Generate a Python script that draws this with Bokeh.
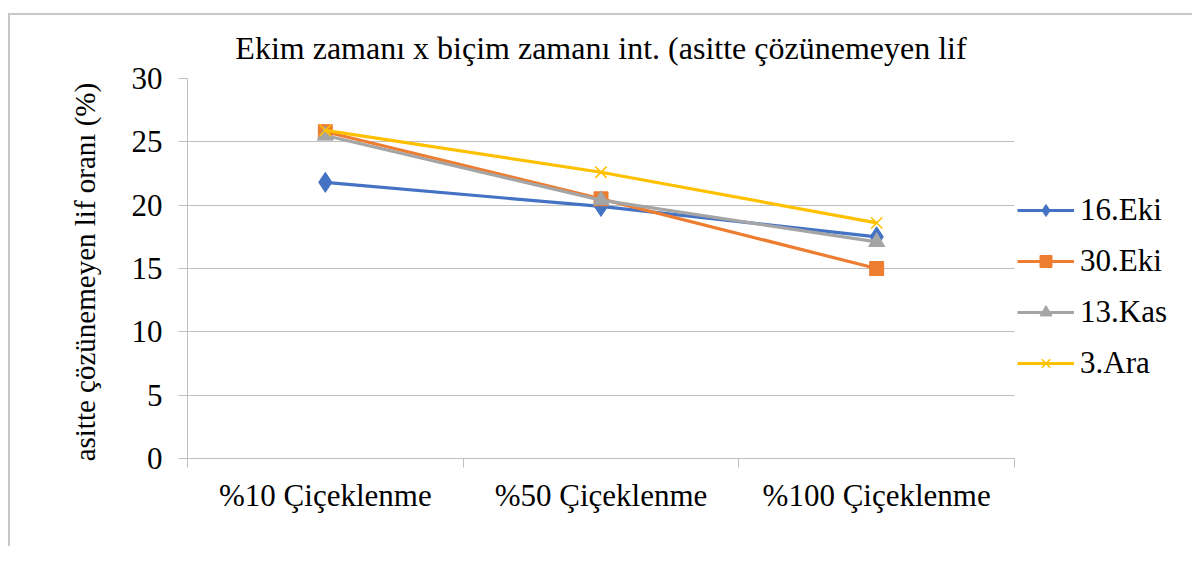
from bokeh.plotting import figure
from bokeh.models import FixedTicker, Legend, LegendItem, Range1d
from bokeh.embed import file_html
from bokeh.resources import INLINE

categories = ["%10 Çiçeklenme", "%50 Çiçeklenme", "%100 Çiçeklenme"]
eki16 = [21.8, 19.9, 17.5]
eki30 = [25.8, 20.5, 15.0]
kas13 = [25.5, 20.4, 17.1]
ara3 = [25.9, 22.6, 18.6]
series_names = ["16.Eki", "30.Eki", "13.Kas", "3.Ara"]
y_ticks = [0, 5, 10, 15, 20, 25, 30]

FONT = "Liberation Serif"
GRID = "#bfbfbf"

xpos = [i + 0.5 for i in range(len(categories))]

p = figure(frame_width=827, frame_height=380, output_backend="svg", toolbar_location=None,
           x_range=Range1d(0, len(categories)), y_range=Range1d(0, 30),
           min_border_left=177, min_border_right=170, min_border_top=62, min_border_bottom=88,
           title="Ekim zamanı x biçim zamanı int. (asitte çözünemeyen lif")
p.styles = {"border-left": "2px solid #c8c8c8", "border-top": "2px solid #c8c8c8",
            "margin-top": "13px", "margin-left": "8px"}
p.outline_line_color = None
p.background_fill_color = "white"
p.border_fill_color = "white"

p.title.align = "center"
p.title.text_font = FONT
p.title.text_font_size = "32px"
p.title.text_font_style = "normal"
p.title.text_color = "black"
p.title.standoff = 25

# x axis
p.xaxis.ticker = FixedTicker(ticks=xpos, minor_ticks=list(range(len(categories) + 1)))
p.xaxis.major_label_overrides = {x: c for x, c in zip(xpos, categories)}
p.xaxis.major_tick_line_color = None
p.xaxis.major_tick_out = 0
p.xaxis.major_tick_in = 0
p.xaxis.minor_tick_line_color = GRID
p.xaxis.minor_tick_out = 9
p.xaxis.minor_tick_in = 0
p.xaxis.axis_line_color = GRID
p.xaxis.major_label_text_font = FONT
p.xaxis.major_label_text_font_size = "31px"
p.xaxis.major_label_text_color = "black"
p.xaxis.major_label_standoff = 10
p.xgrid.grid_line_color = None

# y axis
p.yaxis.ticker = FixedTicker(ticks=y_ticks)
p.yaxis.minor_tick_line_color = None
p.yaxis.major_tick_line_color = GRID
p.yaxis.major_tick_out = 9
p.yaxis.major_tick_in = 0
p.yaxis.axis_line_color = GRID
p.yaxis.major_label_text_font = FONT
p.yaxis.major_label_text_font_size = "31px"
p.yaxis.major_label_text_color = "black"
p.yaxis.major_label_standoff = 16
p.yaxis.axis_label = "asitte çözünemeyen lif oranı  (%)"
p.yaxis.axis_label_text_font = FONT
p.yaxis.axis_label_text_font_size = "29px"
p.yaxis.axis_label_text_font_style = "normal"
p.yaxis.axis_label_text_color = "black"
p.yaxis.axis_label_standoff = 28
p.ygrid.grid_line_color = GRID
p.ygrid.grid_line_width = 1

colors = ["#4472C4", "#ED7D31", "#A5A5A5", "#FFC000"]
data = [eki16, eki30, kas13, ara3]
items = []
for name, vals, col, i in zip(series_names, data, colors, range(4)):
    ln = p.line(xpos, vals, line_color=col, line_width=3.2)
    if i == 0:
        mk = p.scatter(xpos, vals, marker="diamond", size=20, fill_color=col, line_color=col)
    elif i == 1:
        mk = p.scatter(xpos, vals, marker="square", size=14, fill_color=col, line_color=col)
    elif i == 2:
        mk = p.scatter(xpos, vals, marker="triangle", size=16, fill_color=col, line_color=col)
    else:
        mk = p.scatter(xpos, vals, marker="x", size=16, line_color=col, line_width=1.6)
    items.append(LegendItem(label=name, renderers=[ln, mk]))

legend = Legend(items=items, location=(3, 77))
legend.label_text_font = FONT
legend.label_text_font_size = "31px"
legend.label_text_color = "black"
legend.glyph_width = 57
legend.glyph_height = 30
legend.label_height = 30
legend.label_standoff = 6
legend.spacing = 15
legend.padding = 0
legend.margin = 0
legend.border_line_color = None
legend.background_fill_alpha = 0
p.add_layout(legend, "right")

open("out.html", "w").write(file_html(p, INLINE))
